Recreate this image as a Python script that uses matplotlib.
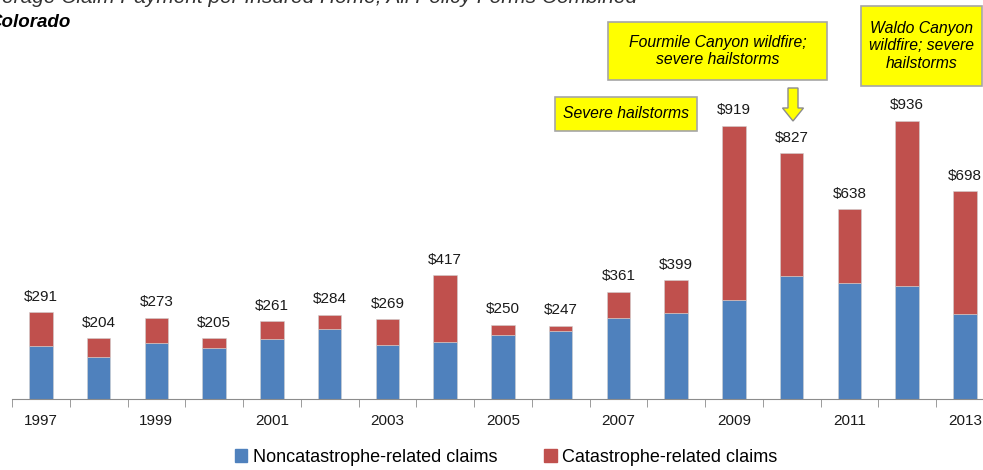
import matplotlib
matplotlib.use('Agg')
import matplotlib.pyplot as plt
import matplotlib.transforms as mtransforms
from matplotlib.patches import Rectangle, FancyArrow, Patch

# Datos
years = list(range(1997, 2014))
total = [291, 204, 273, 205, 261, 284, 269, 417, 250, 247, 361, 399, 919, 827, 638, 936, 698]
noncat = [178, 141, 188, 173, 202, 234, 182, 192, 216, 227, 272, 290, 333, 415, 389, 381, 287]
cat = [t - n for t, n in zip(total, noncat)]
tick_years = [1997, 1999, 2001, 2003, 2005, 2007, 2009, 2011, 2013]

plt.rcParams['font.family'] = ['Liberation Sans', 'DejaVu Sans']

W, H = 983, 470
fig = plt.figure(figsize=(W / 100, H / 100), dpi=100)
ax = fig.add_axes([12 / W, 71 / H, 981.75 / W, 297.4 / H])

x = list(range(len(years)))
ax.bar(x, noncat, width=0.41, color='#4F81BD', edgecolor='#d0d0d0', linewidth=0.4)
ax.bar(x, cat, width=0.41, bottom=noncat, color='#C0504D', edgecolor='#d0d0d0', linewidth=0.4)

for xi, t in zip(x, total):
    ax.annotate(f'${t}', (xi, t), xytext=(0, 6), textcoords='offset points',
                ha='center', va='bottom', fontsize=11, color='#1a1a1a')

ax.set_xlim(-0.5, len(years) - 0.5)
ax.set_ylim(0, 1000)
for s in ['top', 'right', 'left']:
    ax.spines[s].set_visible(False)
ax.spines['bottom'].set_color('#8c8c8c')
ax.set_yticks([])
ax.set_xticks([years.index(y) for y in tick_years])
ax.set_xticklabels([str(y) for y in tick_years], fontsize=11, color='#1a1a1a')
ax.tick_params(axis='x', which='major', length=0, pad=11)
ax.set_xticks([i - 0.5 for i in range(len(years) + 1)], minor=True)
ax.tick_params(axis='x', which='minor', length=6, color='#8c8c8c', direction='out')

# Leyenda
handles = [Patch(color='#4F81BD', label='Noncatastrophe-related claims'),
           Patch(color='#C0504D', label='Catastrophe-related claims')]
fig.legend(handles=handles, loc='center', bbox_to_anchor=(506 / W, 1 - 457 / H), ncol=2,
           frameon=False, fontsize=13, handlelength=0.7, handleheight=0.7,
           handletextpad=0.3, columnspacing=2.6)

# Titulo (recortado en el original)
px = mtransforms.Affine2D().scale(1 / W, 1 / H) + fig.transFigure
fig.text(-22, H - 3, 'Average Claim Payment per Insured Home, All Policy Forms Combined',
         transform=px, fontsize=15, style='italic', va='baseline', color='#333333')
fig.text(-12, H - 27, 'Colorado', transform=px, fontsize=13.5, style='italic',
         weight='bold', va='baseline', color='black')

# Cuadros amarillos
def caja(x0, y0, x1, y1, texto):
    fig.patches.append(Rectangle((x0, H - y1), x1 - x0, y1 - y0, transform=px,
                                 facecolor='#FFFF00', edgecolor='#a6a6a6', linewidth=1.2))
    fig.text((x0 + x1) / 2, H - (y0 + y1) / 2, texto, transform=px, ha='center',
             va='center', fontsize=11.3, style='italic', linespacing=1.25)

caja(555, 97, 697, 131, 'Severe hailstorms')
caja(608, 22, 827, 80, 'Fourmile Canyon wildfire;\nsevere hailstorms')
caja(861, 6, 982, 86, 'Waldo Canyon\nwildfire; severe\nhailstorms')

fig.patches.append(FancyArrow(793, H - 88, 0, -33, width=10, head_width=21, head_length=13,
                              length_includes_head=True, transform=px,
                              facecolor='#FFFF00', edgecolor='#8c8c8c', linewidth=1))

fig.savefig('out.png', dpi=100)
